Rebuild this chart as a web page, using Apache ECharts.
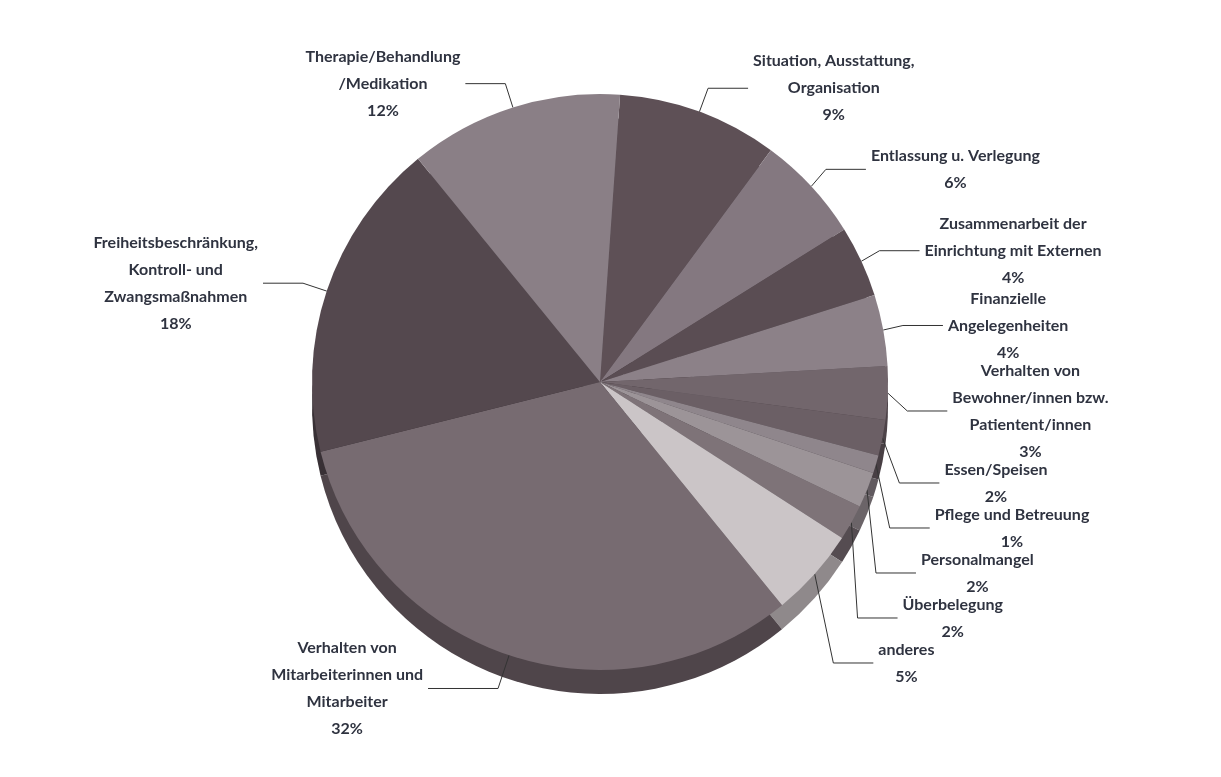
<!DOCTYPE html>
<html><head><meta charset="utf-8">
<script src="https://cdn.jsdelivr.net/npm/echarts@6/dist/echarts.min.js"></script>
<style>html,body{margin:0;padding:0;background:#fff}#c{width:1221px;height:777px}</style>
</head><body><div id="c"></div>
<script>
const categories = [
  "Situation, Ausstattung,\nOrganisation",
  "Entlassung u. Verlegung",
  "Zusammenarbeit der\nEinrichtung mit Externen",
  "Finanzielle\nAngelegenheiten",
  "Verhalten von\nBewohner/innen bzw.\nPatientent/innen",
  "Essen/Speisen",
  "Pflege und Betreuung",
  "Personalmangel",
  "Überbelegung",
  "anderes",
  "Verhalten von\nMitarbeiterinnen und\nMitarbeiter",
  "Freiheitsbeschränkung,\nKontroll- und\nZwangsmaßnahmen",
  "Therapie/Behandlung\n/Medikation"
];
const values = [9, 6, 4, 4, 3, 2, 1, 2, 2, 5, 32, 18, 12];
const colors = ["#5e5056","#847880","#5a4d53","#8c8188","#72666c","#6b5f65","#8f868c","#9c9498","#7e7378","#cbc5c7","#776b71","#54484e","#8a7f86"];
const sideColors = ["#3f3439","#5a4f55","#3d3338","#5f565c","#4d4348","#483f44","#615a5f","#6b6468","#554c51","#8f898b","#4f454a","#383035","#5e555b"];

const topData = categories.map((n,i)=>{
  const d = {name:n, value:values[i], itemStyle:{color:colors[i]}};
  if (i === 10) d.labelLine = {length:35, length2:70};
  return d;
});
const sideData = categories.map((n,i)=>({name:n, value:values[i], itemStyle:{color:sideColors[i]}}));

const chart = echarts.init(document.getElementById('c'));
chart.setOption({
  animation:false,
  series:[
    {type:'pie', silent:true, center:[600,406], radius:[0,288], startAngle:86, clockwise:true,
     data:sideData, label:{show:false}, labelLine:{show:false}, z:1},
    {type:'pie', center:[600,382], radius:[0,288], startAngle:86, clockwise:true,
     data:topData, z:2,
     label:{show:true, formatter:'{t|{b}\n{c}%}',
            rich:{t:{align:'center', color:'#2f3340', fontFamily:'Lato', fontWeight:'bold', fontSize:16, lineHeight:27}}},
     labelLine:{show:true, length:25, length2:40, lineStyle:{color:'#333', width:1}}}
  ]
});
</script></body></html>
